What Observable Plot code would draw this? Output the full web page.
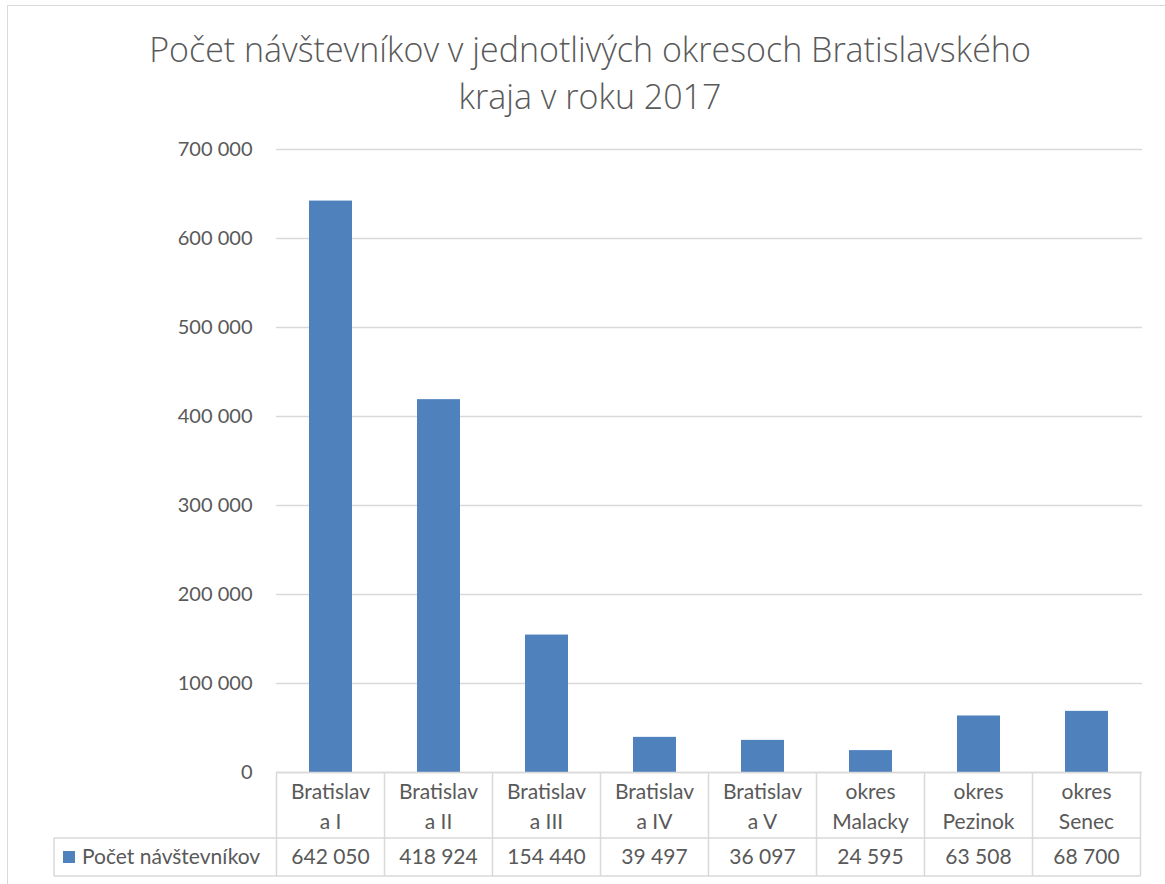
<!DOCTYPE html>
<html><head><meta charset="utf-8">
<script src="https://cdn.jsdelivr.net/npm/d3@7"></script>
<script src="https://cdn.jsdelivr.net/npm/@observablehq/plot@0.6"></script>
<style>
body{margin:0;background:#fff;}
#wrap{position:relative;width:1165px;height:884px;overflow:hidden;font-family:Lato,"Open Sans",sans-serif;color:#595959;background:#fff;}
#frame{position:absolute;left:7px;top:5px;width:1200px;height:1000px;border-left:1px solid #d9d9d9;border-top:1px solid #d9d9d9;box-sizing:border-box;}
#title{position:absolute;left:0;top:26px;width:1180px;text-align:center;font-family:"Open Sans",Lato,sans-serif;font-weight:300;font-size:34px;line-height:47px;color:#595959;}
#chart{position:absolute;left:0;top:120px;}
#chart svg{font-family:Lato,"Open Sans",sans-serif;}
</style></head>
<body>
<div id="wrap">
  <div id="frame"></div>
  <div id="title">Počet návštevníkov v jednotlivých okresoch Bratislavského<br>kraja v roku 2017</div>
  <div id="chart"></div>
</div>
<script>
const categories = ["Bratislava I","Bratislava II","Bratislava III","Bratislava IV","Bratislava V","okres Malacky","okres Pezinok","okres Senec"];
const labelLine1 = ["Bratislav","Bratislav","Bratislav","Bratislav","Bratislav","okres","okres","okres"];
const labelLine2 = ["a I","a II","a III","a IV","a V","Malacky","Pezinok","Senec"];
const values = [642050, 418924, 154440, 39497, 36097, 24595, 63508, 68700];
const yTicks = [0, 100000, 200000, 300000, 400000, 500000, 600000, 700000];
const seriesName = "Počet návštevníkov";

const locale = d3.formatLocale({decimal: ",", thousands: " ", grouping: [3], currency: ["", " €"]});
const fmt = locale.format(",d");
const data = categories.map((c, i) => ({cat: c, value: values[i], l1: labelLine1[i], l2: labelLine2[i]}));

const W = 1165, H = 764;
const chart = Plot.plot({
  width: W, height: H,
  marginLeft: 276, marginRight: 23, marginTop: 29, marginBottom: 112,
  style: {fontFamily: 'Lato, "Open Sans", sans-serif', fontSize: "20px", color: "#595959", background: "transparent"},
  x: {domain: categories, paddingInner: 0.6, paddingOuter: 0.3, axis: null},
  y: {domain: [0, 700000], ticks: yTicks, tickFormat: fmt, tickSize: 0, tickPadding: 24, label: null},
  marks: [
    Plot.gridY(yTicks, {stroke: "#d9d9d9", strokeOpacity: 1, strokeWidth: 1.5}),
    Plot.barY(data, {x: "cat", y: "value", fill: "#4f81bd"}),
    Plot.ruleY([0], {stroke: "#d9d9d9", strokeWidth: 1.5})
  ]
});
document.getElementById("chart").appendChild(chart);

// Data table drawn with the plot's own scales
const xs = chart.scale("x"), ys = chart.scale("y");
const step = xs.step, bw = xs.bandwidth;
const y0 = ys.apply(0);
const rowMid = y0 + 66, rowBot = y0 + 104;
const svg = d3.select(chart);
const g = svg.append("g").attr("fill", "#595959").attr("font-size", 21).attr("text-anchor", "middle");
const edges = categories.map(c => xs.apply(c) - (step - bw) / 2);
const right = edges[edges.length - 1] + step;
const lineC = "#d9d9d9";
edges.concat([right]).forEach(x => {
  g.append("line").attr("x1", x).attr("x2", x).attr("y1", y0).attr("y2", rowBot).attr("stroke", lineC).attr("stroke-width", 1.5);
});
const legL = 54;
g.append("line").attr("x1", legL).attr("x2", right).attr("y1", rowMid).attr("y2", rowMid).attr("stroke", lineC).attr("stroke-width", 1.5);
g.append("line").attr("x1", legL).attr("x2", right).attr("y1", rowBot).attr("y2", rowBot).attr("stroke", lineC).attr("stroke-width", 1.5);
g.append("line").attr("x1", legL).attr("x2", legL).attr("y1", rowMid).attr("y2", rowBot).attr("stroke", lineC).attr("stroke-width", 1.5);
data.forEach(d => {
  const cx = xs.apply(d.cat) + bw / 2;
  g.append("text").attr("x", cx).attr("y", y0 + 20).attr("dy", "0.35em").attr("text-anchor", "middle").text(d.l1);
  g.append("text").attr("x", cx).attr("y", y0 + 50).attr("dy", "0.35em").attr("text-anchor", "middle").text(d.l2);
  g.append("text").attr("x", cx).attr("y", y0 + 85).attr("dy", "0.35em").attr("text-anchor", "middle").text(fmt(d.value));
});
g.append("rect").attr("x", 63).attr("y", y0 + 79).attr("width", 12).attr("height", 12).attr("fill", "#4f81bd");
g.append("text").attr("x", 82).attr("y", y0 + 85).attr("dy", "0.35em").attr("text-anchor", "start").text(seriesName);
</script>
</body></html>
